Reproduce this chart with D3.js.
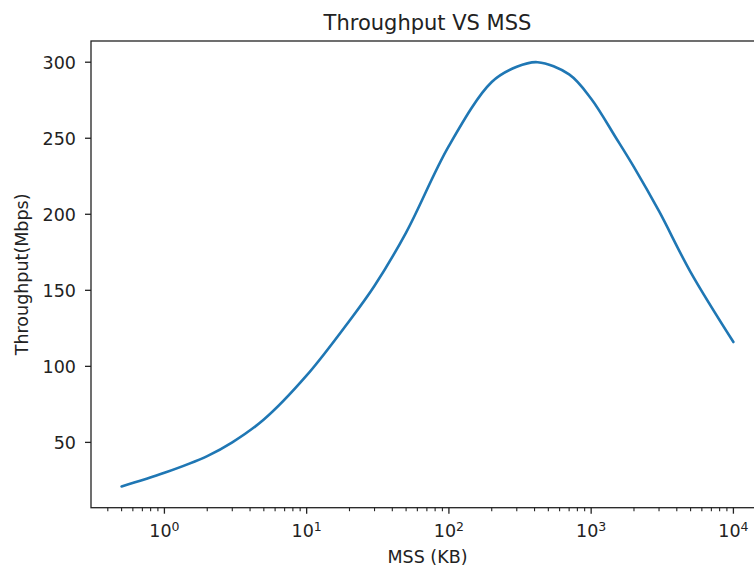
<!DOCTYPE html>
<html>
<head>
<meta charset="utf-8">
<script src="https://cdn.jsdelivr.net/npm/d3@7"></script>
<style>
  body { margin: 0; background: #fff; }
  text { font-family: "DejaVu Sans", sans-serif; fill: #222; }
</style>
</head>
<body>
<svg width="754" height="569"></svg>
<script>
// values
var mss = [0.5, 1, 2, 3, 5, 10, 20, 30, 50, 100, 200, 300, 420, 700, 1000, 1500, 2000, 3000, 5000, 10000];
var throughput = [21, 30, 41, 50, 65, 94, 130, 153, 188, 245, 287, 297, 300, 292, 276, 250, 231, 202, 162, 116];
var yTicks = [50, 100, 150, 200, 250, 300];
var xTicks = [1, 10, 100, 1000, 10000];

var svg = d3.select("svg"),
    axLeft = 91, axTop = 41, axBottom = 507.7, axRight = 764;

// matplotlib-like 5% margins
var lx0 = Math.log10(d3.min(mss)), lx1 = Math.log10(d3.max(mss)),
    lpad = (lx1 - lx0) * 0.05;
var y0 = d3.min(throughput), y1 = d3.max(throughput),
    ypad = (y1 - y0) * 0.05;

var x = d3.scaleLog()
    .domain([Math.pow(10, lx0 - lpad), Math.pow(10, lx1 + lpad)])
    .range([axLeft, axRight]);

var y = d3.scaleLinear()
    .domain([y0 - ypad, y1 + ypad])
    .range([axBottom, axTop]);

// frame
svg.append("rect")
    .attr("x", axLeft).attr("y", axTop)
    .attr("width", axRight - axLeft).attr("height", axBottom - axTop)
    .attr("fill", "none").attr("stroke", "#222").attr("stroke-width", 1.3);

// y axis ticks
var yg = svg.append("g");
yg.selectAll("line").data(yTicks).enter().append("line")
    .attr("x1", axLeft - 6).attr("x2", axLeft)
    .attr("y1", function(d) { return y(d); })
    .attr("y2", function(d) { return y(d); })
    .attr("stroke", "#222").attr("stroke-width", 1.3);
yg.selectAll("text").data(yTicks).enter().append("text")
    .attr("x", axLeft - 15)
    .attr("y", function(d) { return y(d); })
    .attr("dy", "0.36em")
    .attr("text-anchor", "end")
    .style("font-size", "17.5px")
    .text(function(d) { return d; });

// x axis: major + minor ticks
var minor = [];
for (var e = -1; e <= 4; e++) {
  for (var k = 2; k <= 9; k++) {
    var v = k * Math.pow(10, e);
    if (v > x.domain()[0] && v < x.domain()[1]) minor.push(v);
  }
}
var xg = svg.append("g");
xg.selectAll(".minor").data(minor).enter().append("line")
    .attr("class", "minor")
    .attr("x1", function(d) { return x(d); })
    .attr("x2", function(d) { return x(d); })
    .attr("y1", axBottom).attr("y2", axBottom + 3.5)
    .attr("stroke", "#222").attr("stroke-width", 1.1);
xg.selectAll(".major").data(xTicks).enter().append("line")
    .attr("class", "major")
    .attr("x1", function(d) { return x(d); })
    .attr("x2", function(d) { return x(d); })
    .attr("y1", axBottom).attr("y2", axBottom + 6)
    .attr("stroke", "#222").attr("stroke-width", 1.3);

var lbl = xg.selectAll(".lbl").data(xTicks).enter().append("text")
    .attr("class", "lbl")
    .attr("x", function(d) { return x(d); })
    .attr("y", 537)
    .attr("text-anchor", "middle")
    .style("font-size", "17.5px");
lbl.append("tspan").text("10");
lbl.append("tspan")
    .attr("dy", "-0.45em")
    .style("font-size", "12.5px")
    .text(function(d) { return Math.round(Math.log10(d)); });

// line
var line = d3.line()
    .x(function(d, i) { return x(mss[i]); })
    .y(function(d) { return y(d); })
    .curve(d3.curveCatmullRom.alpha(0.5));

svg.append("path")
    .datum(throughput)
    .attr("d", line)
    .attr("fill", "none")
    .attr("stroke", "#1f77b4")
    .attr("stroke-width", 2.6)
    .attr("stroke-linecap", "round");

// titles
svg.append("text")
    .attr("x", (axLeft + axRight) / 2)
    .attr("y", 30)
    .attr("text-anchor", "middle")
    .style("font-size", "21px")
    .text("Throughput VS MSS");

svg.append("text")
    .attr("x", (axLeft + axRight) / 2)
    .attr("y", 563)
    .attr("text-anchor", "middle")
    .style("font-size", "17.5px")
    .text("MSS (KB)");

svg.append("text")
    .attr("transform", "translate(28," + (axTop + axBottom) / 2 + ") rotate(-90)")
    .attr("text-anchor", "middle")
    .style("font-size", "17.5px")
    .text("Throughput(Mbps)");
</script>
</body>
</html>
